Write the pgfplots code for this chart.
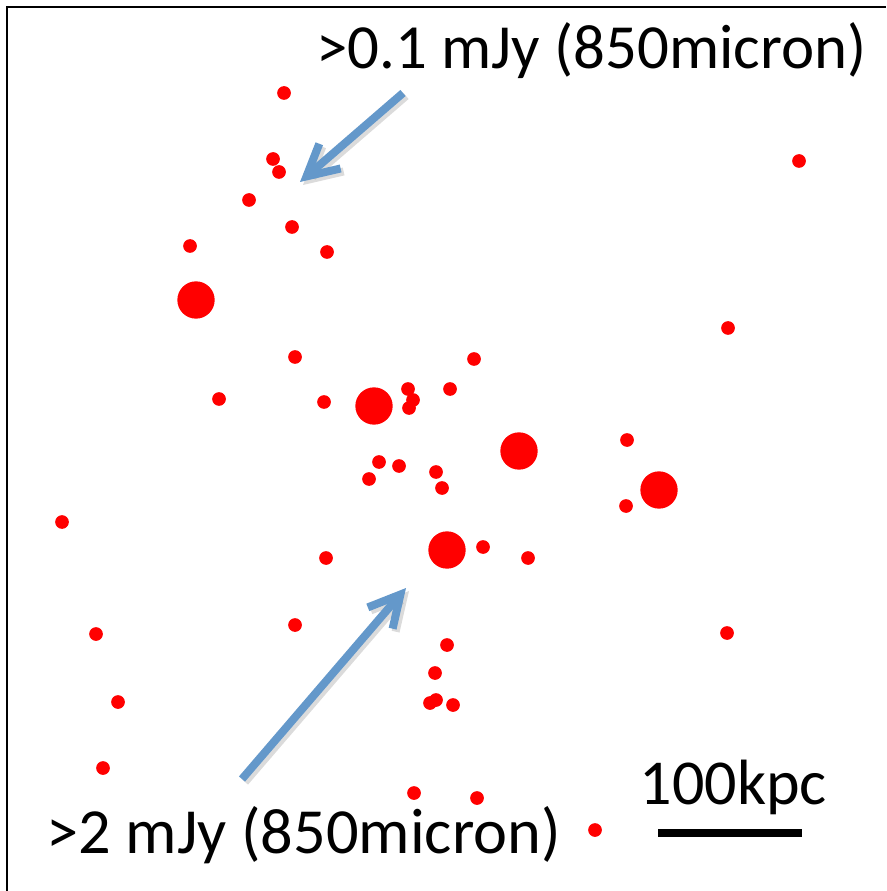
\documentclass[border=0pt]{standalone}
\usepackage{pgfplots}
\pgfplotsset{compat=1.18}
\usepackage{fontspec}
\setmainfont{Carlito}
\usetikzlibrary{arrows.meta}
\definecolor{arrowblue}{RGB}{100,152,202}
\begin{document}
\begin{tikzpicture}
\begin{axis}[
  width=265.8pt, height=267.3pt, scale only axis,
  xmin=0, xmax=886, ymin=0, ymax=891, y dir=reverse,
  enlargelimits=false, hide axis, clip=false,
]
% frame (left and top edges)
\draw[black, line width=0.7pt] (7,891) -- (7,7) -- (886,7);
% small sources
\addplot[only marks, mark=*, mark size=1.85pt, color=red, mark options={draw=none, fill=red}] coordinates {
(284,93) (273,159) (279,172) (249,200) (292,227) (190,246) (327,252)
(799,161) (728,328) (295,357) (474,359) (219,399) (324,402)
(408,389) (413,400) (409,408) (450,389) (379,462) (399,466) (369,479)
(436,472) (442,488) (627,440) (626,506) (62,522) (483,547) (528,558)
(326,558) (96,634) (295,625) (727,633) (447,645) (435,673) (118,702)
(430,703) (436,700) (453,705) (103,768) (414,793) (477,798) (595,830)
};
% bright sources
\addplot[only marks, mark=*, mark size=5.4pt, color=red, mark options={draw=none, fill=red}] coordinates {
(196,300) (374,406) (519,451) (659,490) (447,550)
};
% arrows (shadow + arrow)
\draw[black!40, opacity=0.35, line width=2.4pt, -{Straight Barb[length=9.3pt, width=9.8pt]}] (406,96) -- (303,185);
\draw[arrowblue, line width=2.4pt, -{Straight Barb[length=9.3pt, width=9.8pt]}] (403,93) -- (300,182);
\draw[black!40, opacity=0.35, line width=2.4pt, -{Straight Barb[length=9.3pt, width=9.8pt]}] (245,782) -- (409,591);
\draw[arrowblue, line width=2.4pt, -{Straight Barb[length=9.3pt, width=9.8pt]}] (242,779) -- (406,588);
% scale bar
\draw[black, line width=2.4pt] (658,833) -- (802,833);
% labels
\node[anchor=base west, inner sep=0pt, font=\fontsize{18.85}{22}\selectfont] at (316,69) {>0.1 mJy (850micron)};
\node[anchor=base west, inner sep=0pt, font=\fontsize{19.3}{22}\selectfont] at (46,853) {>2 mJy (850micron)};
\node[anchor=base west, inner sep=0pt, font=\fontsize{19.2}{22}\selectfont] at (639,804) {100kpc};
\end{axis}
\pgfresetboundingbox
\path (0,0) rectangle (265.8pt,267.3pt);
\end{tikzpicture}
\end{document}
